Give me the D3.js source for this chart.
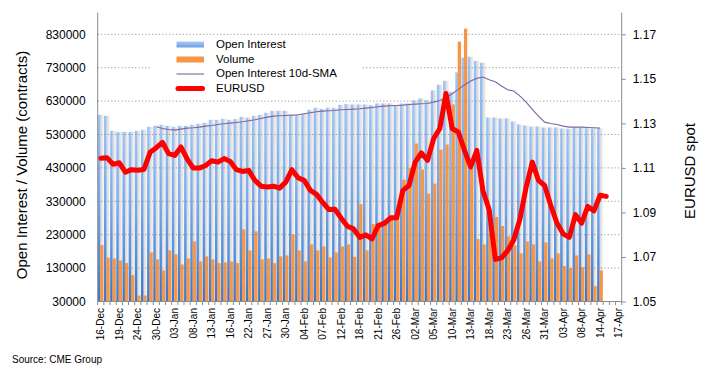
<!DOCTYPE html>
<html><head><meta charset="utf-8">
<script src="https://cdn.jsdelivr.net/npm/d3@7"></script>
<style>
body{margin:0;background:#fff}
svg{display:block}
text{font-family:"Liberation Sans",Arial,Helvetica,sans-serif;fill:#000}
</style>
</head><body>
<svg id="chart" width="708" height="373"></svg>
<script>
const dates = ["16-Dec","17-Dec","18-Dec","19-Dec","20-Dec","23-Dec","24-Dec","26-Dec","27-Dec","30-Dec","31-Dec","02-Jan","03-Jan","06-Jan","07-Jan","08-Jan","09-Jan","10-Jan","13-Jan","14-Jan","15-Jan","16-Jan","17-Jan","21-Jan","22-Jan","23-Jan","24-Jan","27-Jan","28-Jan","29-Jan","30-Jan","31-Jan","03-Feb","04-Feb","05-Feb","06-Feb","07-Feb","10-Feb","11-Feb","12-Feb","13-Feb","14-Feb","18-Feb","19-Feb","20-Feb","21-Feb","24-Feb","25-Feb","26-Feb","27-Feb","28-Feb","02-Mar","03-Mar","04-Mar","05-Mar","06-Mar","09-Mar","10-Mar","11-Mar","12-Mar","13-Mar","16-Mar","17-Mar","18-Mar","19-Mar","20-Mar","23-Mar","24-Mar","25-Mar","26-Mar","27-Mar","30-Mar","31-Mar","01-Apr","02-Apr","03-Apr","06-Apr","07-Apr","08-Apr","09-Apr","13-Apr","14-Apr","15-Apr","16-Apr","17-Apr"];
const tickLabels = ["16-Dec","19-Dec","24-Dec","30-Dec","03-Jan","08-Jan","13-Jan","16-Jan","22-Jan","27-Jan","30-Jan","04-Feb","07-Feb","12-Feb","18-Feb","21-Feb","26-Feb","02-Mar","05-Mar","10-Mar","13-Mar","18-Mar","23-Mar","26-Mar","31-Mar","03-Apr","08-Apr","14-Apr","17-Apr"];
const openInterest = [589000,586000,541000,538000,538000,538000,541000,544000,553000,556000,559000,556000,553000,556000,556000,559000,562000,565000,574000,574000,577000,574000,576000,583000,580000,586000,589000,595000,601000,601000,601000,589000,589000,592000,604000,610000,607000,610000,610000,619000,621000,620000,620000,620000,618000,623000,623000,623000,618000,623000,623000,632000,638000,632000,662000,679000,691000,658000,716000,760000,763000,750000,745000,581000,581000,578000,578000,569000,560000,557000,554000,554000,551000,551000,551000,548000,547000,551000,551000,549000,548000,548000];
const volume = [199000,162000,159000,153000,145000,109000,48000,48000,177000,156000,123000,183000,171000,141000,159000,210000,150000,165000,156000,145000,147000,150000,145000,246000,183000,240000,156000,159000,145000,165000,168000,231000,183000,150000,201000,183000,195000,162000,177000,195000,201000,164000,321000,183000,262000,258000,272000,282000,290000,395000,430000,503000,425000,353000,383000,485000,500000,620000,808000,847000,432000,217000,201000,235000,283000,256000,225000,198000,174000,210000,201000,150000,207000,159000,174000,136000,130000,168000,133000,171000,76000,123000];
const oiSma = [null,null,null,null,null,null,null,null,null,553000,548000,545000,543000,546000,549000,550000,552000,555000,557000,560000,562000,564000,566000,568000,571000,574000,578000,582000,585000,586000,587000,588000,589000,592000,595000,598000,600000,601000,602000,604000,605000,606000,607000,609000,611000,613000,615000,616000,617000,618000,620000,621000,622000,623000,627000,632000,640000,652000,665000,678000,690000,698000,702000,694000,688000,675000,664000,660000,645000,627000,605000,585000,567000,563000,560000,555000,552000,552000,552000,551000,550000,549000];
const eurusd = [1.1143,1.1146,1.1116,1.1123,1.1081,1.1092,1.1089,1.1093,1.1170,1.1191,1.1215,1.1164,1.1156,1.1194,1.1141,1.1099,1.1099,1.1111,1.1132,1.1126,1.1142,1.1129,1.1092,1.1084,1.1089,1.1044,1.1018,1.1014,1.1018,1.1009,1.1036,1.1092,1.1056,1.1044,1.0999,1.0981,1.0945,1.0913,1.0914,1.0874,1.0838,1.0826,1.0788,1.0799,1.0781,1.0841,1.0851,1.0876,1.0876,1.0999,1.1021,1.1126,1.1167,1.1134,1.1232,1.1277,1.1434,1.1277,1.1261,1.1179,1.1104,1.1179,1.0996,1.0912,1.0689,1.0696,1.0728,1.0777,1.0871,1.1014,1.1126,1.1044,1.1021,1.0931,1.0852,1.0804,1.0788,1.0890,1.0852,1.0927,1.0907,1.0977,1.0972];
const leftTicks = [30000,130000,230000,330000,430000,530000,630000,730000,830000];
const rightTicks = [1.05,1.07,1.09,1.11,1.13,1.15,1.17];
const seriesNames = ["Open Interest","Volume","Open Interest 10d-SMA","EURUSD"];

const svg = d3.select("#chart");
const L = 97.7, R = 621.7, B = 301.5, T = 12.7, TOPV = 34.3;
const x = d3.scaleBand().domain(dates).range([L, R]).padding(0);
const bw = x.bandwidth();
const yL = d3.scaleLinear().domain([30000, 830000]).range([B, TOPV]);
const yR = d3.scaleLinear().domain([1.05, 1.17]).range([B, TOPV]);

const defs = svg.append("defs");
const gb = defs.append("linearGradient").attr("id","gb").attr("x1",0).attr("y1",0).attr("x2",0).attr("y2",1);
gb.append("stop").attr("offset","0%").attr("stop-color","#9ec4f6");
gb.append("stop").attr("offset","45%").attr("stop-color","#77a8ea");
gb.append("stop").attr("offset","100%").attr("stop-color","#3977c9");
const gs = defs.append("linearGradient").attr("id","gs").attr("x1",0).attr("y1",0).attr("x2",1).attr("y2",0);
gs.append("stop").attr("offset","0%").attr("stop-color","#d4d4d4");
gs.append("stop").attr("offset","100%").attr("stop-color","#f6f6f6");
const gl = defs.append("linearGradient").attr("id","gl").attr("x1",0).attr("y1",0).attr("x2",0).attr("y2",1);
gl.append("stop").attr("offset","0%").attr("stop-color","#a9cbf7");
gl.append("stop").attr("offset","100%").attr("stop-color","#6a9fe3");

// bars
const bars = svg.append("g");
bars.selectAll("rect.sh").data(openInterest).join("rect").attr("class","sh")
  .attr("x",(d,i)=>x(dates[i])+2.5).attr("width",3.5)
  .attr("y",d=>yL(d)).attr("height",d=>yL(30000)-yL(d)).attr("fill","url(#gs)");
bars.selectAll("rect.oi").data(openInterest).join("rect").attr("class","oi")
  .attr("x",(d,i)=>x(dates[i])+0.1).attr("width",2.5)
  .attr("y",d=>yL(d)).attr("height",d=>yL(30000)-yL(d)).attr("fill","url(#gb)");
bars.selectAll("rect.vol").data(volume).join("rect").attr("class","vol")
  .attr("x",(d,i)=>x(dates[i])+2.5).attr("width",3.3)
  .attr("y",d=>yL(d)).attr("height",d=>yL(30000)-yL(d)).attr("fill","#f79646");

// gridlines (dotted)
svg.append("g").selectAll("line").data(leftTicks.slice(1)).join("line")
  .attr("x1",L).attr("x2",R).attr("y1",d=>yL(d)).attr("y2",d=>yL(d))
  .attr("stroke","#8a8a8a").attr("stroke-width",1).attr("stroke-dasharray","1.2,2.2").attr("opacity",0.85);

// SMA line
const smaLine = d3.line().defined(d=>d!=null).x((d,i)=>x(dates[i])+bw/2).y(d=>yL(d));
svg.append("path").datum(oiSma).attr("d",smaLine).attr("fill","none").attr("stroke","#8064a2").attr("stroke-width",1.1);

// EURUSD line
const fxLine = d3.line().x((d,i)=>x(dates[i])+bw/2).y(d=>yR(d));
svg.append("path").datum(eurusd).attr("d",fxLine).attr("fill","none").attr("stroke","#ff0000")
  .attr("stroke-width",5).attr("stroke-linejoin","round").attr("stroke-linecap","round");

// axes lines
const ax = svg.append("g").attr("stroke","#8c8c8c").attr("stroke-width",1);
ax.append("line").attr("x1",L).attr("x2",L).attr("y1",T).attr("y2",B);
ax.append("line").attr("x1",R).attr("x2",R).attr("y1",T).attr("y2",B);
ax.append("line").attr("x1",L).attr("x2",R).attr("y1",B).attr("y2",B);
ax.selectAll("line.xt").data(d3.range(dates.length+1)).join("line").attr("class","xt")
  .attr("x1",i=>L+i*bw).attr("x2",i=>L+i*bw).attr("y1",B).attr("y2",B+3.5);

// left axis
const gL = svg.append("g").attr("transform",`translate(${L},0)`)
  .call(d3.axisLeft(yL).tickValues(leftTicks).tickFormat(d3.format("d")).tickSize(0).tickPadding(12));
gL.select(".domain").remove();
gL.selectAll("text").attr("font-size",12).attr("font-family","Liberation Sans, Arial, sans-serif").attr("fill","#000");

// right axis
const gR = svg.append("g").attr("transform",`translate(${R},0)`)
  .call(d3.axisRight(yR).tickValues(rightTicks).tickFormat(d3.format(".2f")).tickSize(4).tickPadding(7));
gR.select(".domain").remove();
gR.selectAll("line").attr("stroke","#8c8c8c");
gR.selectAll("text").attr("font-size",12).attr("font-family","Liberation Sans, Arial, sans-serif").attr("fill","#000");

// x axis labels
const gX = svg.append("g").attr("transform",`translate(0,${B})`)
  .call(d3.axisBottom(x).tickValues(tickLabels).tickSize(0));
gX.select(".domain").remove();
gX.selectAll("text").attr("font-size",10).attr("font-family","Liberation Sans, Arial, sans-serif").attr("fill","#000")
  .attr("transform","rotate(-90)").attr("text-anchor","end").attr("x",-6.5).attr("y",0).attr("dy","0.35em");

// titles
svg.append("text").attr("transform","translate(22,165) rotate(-90)").attr("text-anchor","middle")
  .attr("dy","0.35em").attr("font-size",15).text("Open Interest / Volume (contracts)");
svg.append("text").attr("transform","translate(690,171) rotate(-90)").attr("text-anchor","middle")
  .attr("dy","0.35em").attr("font-size",15).text("EURUSD spot");
svg.append("text").attr("x",12).attr("y",363).attr("font-size",10).text("Source: CME Group");

// legend
const lg = svg.append("g");
lg.append("rect").attr("x",150).attr("y",37).attr("width",212).attr("height",62).attr("fill","#fff");
const ly = [44.3, 59.3, 73.2, 88.3];
lg.append("rect").attr("x",176.5).attr("y",41.5).attr("width",27.5).attr("height",6).attr("fill","url(#gl)");
lg.append("rect").attr("x",176.5).attr("y",56.5).attr("width",27.5).attr("height",6).attr("fill","#f79646");
lg.append("line").attr("x1",176.5).attr("x2",204).attr("y1",74).attr("y2",74).attr("stroke","#8064a2").attr("stroke-width",1.1);
lg.append("line").attr("x1",178).attr("x2",202.5).attr("y1",88.5).attr("y2",88.5).attr("stroke","#ff0000").attr("stroke-width",5).attr("stroke-linecap","round");
lg.selectAll("text").data(seriesNames).join("text").attr("x",216).attr("y",(d,i)=>ly[i]).attr("dy","0.35em")
  .attr("font-size",11.5).text(d=>d);
</script>
</body></html>
